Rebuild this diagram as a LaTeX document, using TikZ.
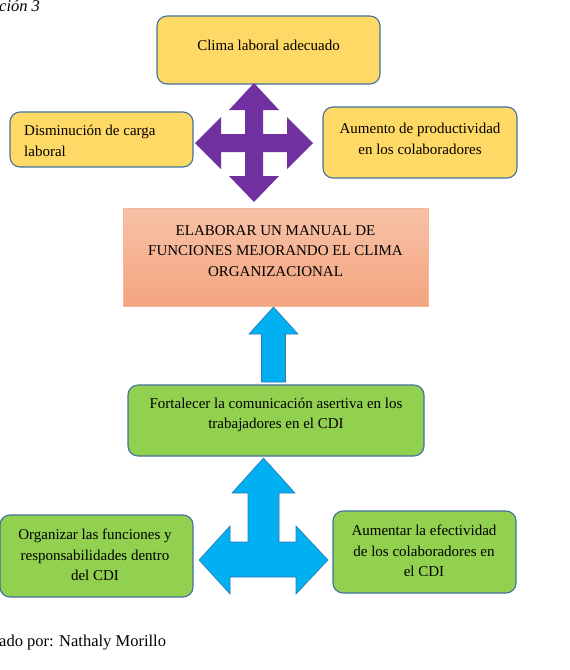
\documentclass[tikz,border=0pt]{standalone}
\usepackage{fontspec}
\setmainfont{Liberation Serif}
\definecolor{ybox}{RGB}{255,217,102}
\definecolor{gbox}{RGB}{146,208,80}
\definecolor{bdr}{RGB}{65,113,156}
\definecolor{purp}{RGB}{112,48,160}
\definecolor{cyanA}{RGB}{0,176,240}
\definecolor{cyanB}{RGB}{46,117,182}
\definecolor{salT}{RGB}{248,194,166}
\definecolor{salB}{RGB}{244,164,128}
\tikzset{
  rbox/.style={draw=bdr, line width=1.1pt, rounded corners=10pt, inner sep=0pt},
  ybx/.style={rbox, fill=ybox},
  gbx/.style={rbox, fill=gbox},
  txt/.style={font=\fontsize{15}{20.5}\selectfont, align=center, inner sep=0pt},
}
\begin{document}
\begin{tikzpicture}[x=1pt,y=-1pt]
\useasboundingbox (0,0) rectangle (570,670);
% caption fragments
\node[anchor=west, font=\fontsize{16.5}{18}\selectfont\itshape, inner sep=0pt] (cap) at (-1,6) {ción 3};
\node[anchor=west, font=\fontsize{16.5}{18}\selectfont, inner sep=0pt] (autor) at (-1,643) {ado por: Nathaly Morillo};
% yellow boxes
\node[ybx, minimum width=223pt, minimum height=68pt] (clima) at (268.5,50) {};
\node[txt] (climaT) at (268.5,45) {Clima laboral adecuado};
\node[ybx, minimum width=183pt, minimum height=55pt] (dism) at (101.5,139.5) {};
\node[txt, align=left, anchor=west] (dismT) at (24,141) {Disminución de carga\\laboral};
\node[ybx, minimum width=194pt, minimum height=71pt] (aum) at (420,142.5) {};
\node[txt] (aumT) at (420,139) {Aumento de productividad\\en los colaboradores};
% central box
\node[top color=salT, bottom color=salB, draw=salB!80!white, line width=0.5pt, minimum width=305pt, minimum height=98pt, inner sep=0pt] (manual) at (275.5,257) {};
\node[txt] (manualT) at (275.5,251) {ELABORAR UN MANUAL DE\\FUNCIONES MEJORANDO EL CLIMA\\ORGANIZACIONAL};
% green boxes
\node[gbx, minimum width=296pt, minimum height=71pt] (fort) at (276,420.5) {};
\node[txt] (fortT) at (276,415) {Fortalecer la comunicación asertiva en los\\trabajadores en el CDI};
\node[gbx, minimum width=193pt, minimum height=82pt] (org) at (96.5,556) {};
\node[txt] (orgT) at (95,555) {Organizar las funciones y\\responsabilidades dentro\\del CDI};
\node[gbx, minimum width=183pt, minimum height=82pt] (efec) at (424.5,552) {};
\node[txt] (efecT) at (424,551) {Aumentar la efectividad\\de los colaboradores en\\el CDI};
% purple quad arrow
\coordinate (q) at (254,143);
\fill[purp] (254,83) -- (279,110) -- (263,110) -- (263,134) -- (287,134) -- (287,117)
  -- (313,143) -- (287,169) -- (287,152) -- (263,152) -- (263,176) -- (279,176)
  -- (254,202) -- (229,176) -- (245,176) -- (245,152) -- (221,152) -- (221,169)
  -- (195,143) -- (221,117) -- (221,134) -- (245,134) -- (245,110) -- (229,110) -- cycle;
% up arrow from fort to manual
\draw[cyanB, fill=cyanA, line width=0.6pt] (273.5,382) coordinate (ua)
  -- (261.5,382) -- (261.5,334) -- (249,334) -- (273.5,307) -- (298,334) -- (285.5,334) -- (285.5,382) -- cycle;
% T arrow
\draw[cyanB, fill=cyanA, line width=0.6pt] (263.5,458) -- (295,493) -- (279,493) -- (279,542)
  -- (296,542) -- (296,526) -- (328,560) -- (296,594) -- (296,577) -- (230,577)
  -- (230,594) -- (199,560) -- (230,526) -- (230,542) -- (248,542) -- (248,493)
  -- (232,493) -- cycle;
\end{tikzpicture}
\end{document}
